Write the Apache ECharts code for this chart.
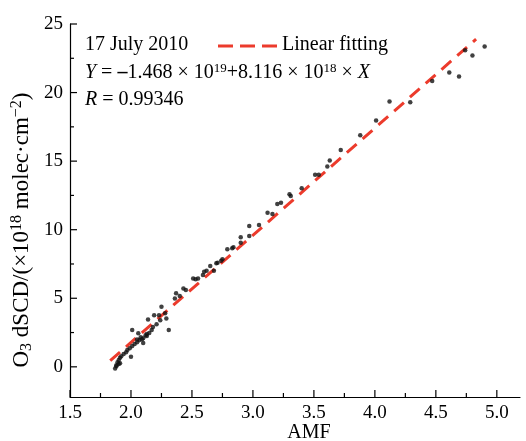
<!DOCTYPE html>
<html><head><meta charset="utf-8">
<script src="https://cdn.jsdelivr.net/npm/echarts@6/dist/echarts.min.js"></script>
<style>html,body{margin:0;padding:0;background:#fff}#c{width:526px;height:441px}</style>
</head><body><div id="c"></div><script>
// AMF (x) and O3 dSCD (1e18 molec/cm2)
const amf = [1.87,1.88,1.88,1.89,1.90,1.90,1.91,1.91,1.92,1.94,1.96,1.97,1.99,2.00,2.01,2.01,2.03,2.05,2.06,2.07,2.09,2.10,2.10,2.13,2.13,2.14,2.15,2.17,2.19,2.23,2.25,2.28,2.29,2.31,2.36,2.37,2.40,2.43,2.45,2.51,2.53,2.55,2.59,2.60,2.62,2.65,2.68,2.70,2.71,2.74,2.75,2.79,2.83,2.84,2.90,2.90,2.97,2.97,3.05,3.12,3.16,3.20,3.23,3.30,3.31,3.40,3.51,3.54,3.61,3.63,3.72,3.88,4.01,4.12,4.29,4.47,4.61,4.69,4.74,4.80,4.90,2.05,2.08,2.12,2.18,2.21,2.24];
const dscd = [-0.13,0.05,0.12,0.34,0.20,0.49,0.27,0.67,0.78,0.93,1.07,1.22,1.36,0.73,1.51,2.68,1.66,1.80,2.44,1.95,2.02,1.73,2.09,2.24,2.39,3.46,2.46,2.68,3.77,3.77,4.38,3.90,3.53,2.68,4.99,5.36,5.16,5.72,5.60,6.45,6.38,6.45,6.69,6.93,7.01,7.35,7.01,7.55,7.59,7.74,7.84,8.57,8.64,8.72,9.05,9.45,10.27,9.54,10.34,11.24,11.15,11.88,11.97,12.58,12.45,13.02,14.0,14.0,14.6,15.04,15.82,16.89,17.96,19.34,19.30,20.85,21.46,21.17,23.08,22.70,23.36,2.00,2.15,2.30,2.90,3.10,3.40];
// Linear fitting line endpoints
const fitAmf = [1.83, 4.83];
const fitDscd = [0.45, 23.9];
// tick values
const xMajorTicks = [1.5,2.0,2.5,3.0,3.5,4.0,4.5,5.0];
const xMinorTicks = [1.75,2.25,2.75,3.25,3.75,4.25,4.75];
const yMajorTicks = [0,5,10,15,20,25];
const yMinorTicks = [2.5,7.5,12.5,17.5,22.5];

const FONT = '"Liberation Serif","Times New Roman",serif';
const chart = echarts.init(document.getElementById('c'));
const pts = amf.map((a,i)=>[a, dscd[i]]);
const fit = fitAmf.map((a,i)=>[a, fitDscd[i]]);
const K = '#000';
const RED = '#ec3b2c';

// frame
const CW = 526, CH = 441;
const L = 70, T = 24, B = 44, R = 6;
const H = CH - T - B, W = CW - L - R;
const yMin = -2.2, yMax = 25, xMin = 1.5, xMax = 5.19;
const pxPerY = H / (yMax - yMin);
const y0px = T + (yMax - yMajorTicks[0]) * pxPerY;
const pxPerX = W / (xMax - xMin);
const x5px = L + (xMajorTicks[xMajorTicks.length-1] - xMin) * pxPerX;
const axisY = T + H;
const MAJ = 7, MIN = 4;

const OB = {left:-60, right:-60, top:-60, bottom:-60};
const mkGrid = (o) => Object.assign({containLabel:false, outerBounds:OB}, o);

const texts = [
  {type:'text', x:85, y:45, style:{text:'17 July 2010', font:'20px '+FONT, fill:'#000', verticalAlign:'middle'}},
  {type:'line', shape:{x1:218, y1:46, x2:280, y2:46}, style:{stroke:RED, lineWidth:3, lineDash:[15,7]}},
  {type:'text', x:282, y:45, style:{text:'Linear fitting', font:'20px '+FONT, fill:'#000', verticalAlign:'middle'}},
  {type:'text', x:85, y:73, style:{
    text:'{i|Y} = {b|–}1.468 × 10{s|19}+8.116 × 10{s|18} × {i|X}',
    font:'20px '+FONT, fill:'#000', verticalAlign:'middle',
    rich:{
      i:{fontStyle:'italic', fontSize:20, fontFamily:FONT},
      b:{fontWeight:'bold', fontSize:20, fontFamily:FONT},
      s:{fontSize:13, fontFamily:FONT, verticalAlign:'bottom', padding:[0,0,9,0]}
    }}},
  {type:'text', x:85, y:100, style:{
    text:'{i|R} = 0.99346', font:'20px '+FONT, fill:'#000', verticalAlign:'middle',
    rich:{i:{fontStyle:'italic', fontSize:20, fontFamily:FONT}}}},
  {type:'text', x:309, y:433, style:{text:'AMF', font:'20px '+FONT, fill:'#000', align:'center', verticalAlign:'middle'}},
  {type:'text', x:22, y:230, rotation:Math.PI/2, style:{
    text:'O{sub|3} dSCD/(×10{s|18} molec·cm{s|−2})',
    font:'23px '+FONT, fill:'#000', align:'center', verticalAlign:'middle',
    rich:{
      sub:{fontSize:16, fontFamily:FONT, verticalAlign:'bottom', padding:[7,0,0,0]},
      s:{fontSize:16, fontFamily:FONT, verticalAlign:'bottom', padding:[0,0,10,0]}
    }}}
];

chart.setOption({
  animation:false,
  backgroundColor:'#fff',
  grid:[
    mkGrid({left:L, right:R, top:T, bottom:B}),
    mkGrid({left:L, right:CW - x5px, top:T, bottom:CH - y0px})
  ],
  xAxis:[{
    gridIndex:0, type:'value', min:xMin, max:xMax, position:'bottom',
    axisLine:{show:true, onZero:false, lineStyle:{color:K, width:1.2}},
    axisTick:{show:false}, axisLabel:{show:false}, splitLine:{show:false}
  },{
    gridIndex:1, type:'value', min:xMajorTicks[0], max:xMajorTicks[xMajorTicks.length-1], interval:0.5, position:'bottom',
    offset: axisY - y0px,
    axisLine:{show:false}, axisTick:{show:false},
    axisLabel:{formatter:v=>v.toFixed(1), fontFamily:FONT, fontSize:19, color:'#000', margin:7},
    splitLine:{show:false}
  }],
  yAxis:[{
    gridIndex:0, type:'value', min:yMin, max:yMax, position:'left',
    axisLine:{show:true, onZero:false, lineStyle:{color:K, width:1.2}},
    axisTick:{show:false}, axisLabel:{show:false}, splitLine:{show:false}
  },{
    gridIndex:1, type:'value', min:yMajorTicks[0], max:yMajorTicks[yMajorTicks.length-1], interval:5, position:'left',
    axisLine:{show:false}, axisTick:{show:false},
    axisLabel:{formatter:v=>String(v), fontFamily:FONT, fontSize:19, color:'#000', margin:7},
    splitLine:{show:false}
  }],
  series:[{
    type:'line', xAxisIndex:0, yAxisIndex:0, data:fit, symbol:'none', z:2,
    lineStyle:{color:RED, width:3, type:[13,8]}
  },{
    type:'scatter', xAxisIndex:0, yAxisIndex:0, data:pts, symbol:'circle', symbolSize:4.5, z:3,
    itemStyle:{color:'#111'}
  }],
  graphic: texts
});

// inward tick marks, positioned through the axes' own scales
const ax = chart.convertToPixel({xAxisIndex:0}, xMin);
const ay = chart.convertToPixel({yAxisIndex:0}, yMin);
const tickLines = [];
const tk = (x1,y1,x2,y2) => tickLines.push({type:'line', z:50, shape:{x1,y1,x2,y2}, style:{stroke:K, lineWidth:1.2}});
xMajorTicks.forEach(v => { const p = chart.convertToPixel({xAxisIndex:0}, v); tk(p, ay, p, ay - MAJ); });
xMinorTicks.forEach(v => { const p = chart.convertToPixel({xAxisIndex:0}, v); tk(p, ay, p, ay - MIN); });
yMajorTicks.forEach(v => { const p = chart.convertToPixel({yAxisIndex:0}, v); tk(ax, p, ax + MAJ, p); });
yMinorTicks.forEach(v => { const p = chart.convertToPixel({yAxisIndex:0}, v); tk(ax, p, ax + MIN, p); });
chart.setOption({graphic: texts.concat(tickLines)});
</script></body></html>
